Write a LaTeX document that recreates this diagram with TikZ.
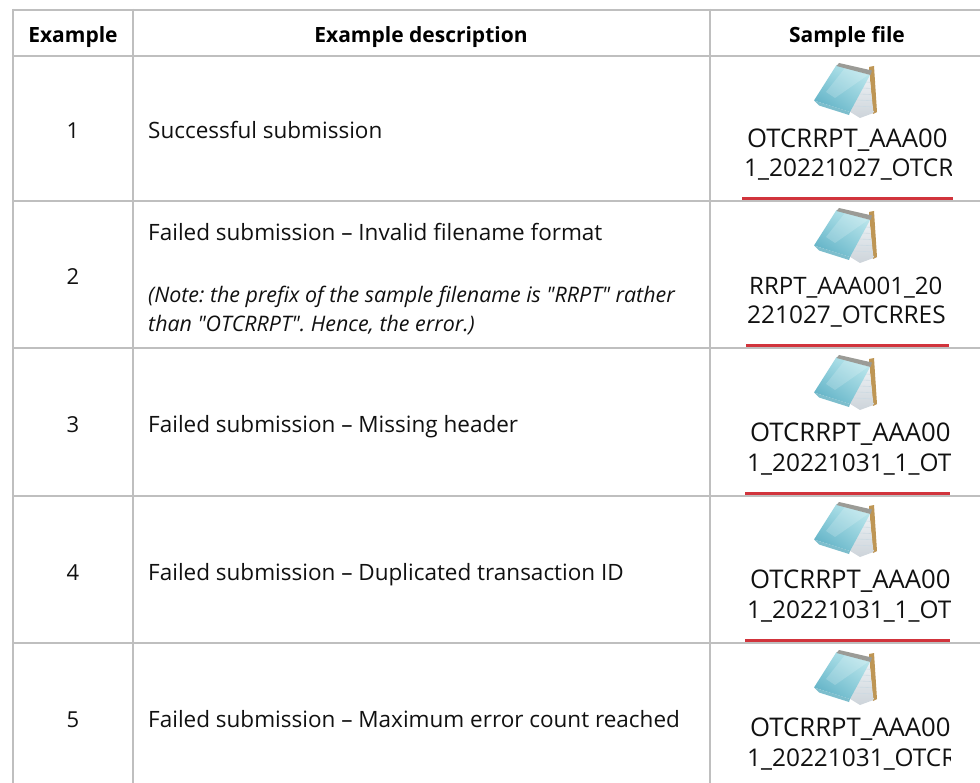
\documentclass[tikz,border=0pt]{standalone}
\usepackage{fontspec}
\setmainfont{Open Sans}
\newfontfamily\plainquote{Open Sans}
\usetikzlibrary{calc,shadings}
\definecolor{gridgray}{HTML}{BFBFBF}
\definecolor{ulred}{HTML}{D1343C}
\definecolor{txt}{HTML}{111111}
\definecolor{covll}{RGB}{85,170,192}
\definecolor{covul}{RGB}{150,212,224}
\definecolor{covlr}{RGB}{140,205,218}
\definecolor{covur}{RGB}{200,236,240}
\definecolor{tanback}{RGB}{190,150,85}
\definecolor{pagebot}{RGB}{205,212,218}
\definecolor{pagetop}{RGB}{240,244,247}
\definecolor{pageline}{RGB}{205,218,226}
\definecolor{spiral}{RGB}{155,155,150}
\definecolor{lip}{RGB}{125,190,205}
\tikzset{
  x=1pt,y=-1pt,
  grid/.style={draw=gridgray,line width=2pt},
  ul/.style={draw=ulred,line width=3pt},
  head/.style={font=\fontsize{21}{25}\selectfont\bfseries,text=black,inner sep=0pt,anchor=base},
  cellnum/.style={font=\fontsize{22}{26}\selectfont,text=txt,inner sep=0pt,anchor=base},
  desc/.style={font=\fontsize{22.5}{27}\selectfont,text=txt,inner sep=0pt,anchor=base west},
  note/.style={font=\plainquote\frenchspacing\fontsize{21.4}{25}\selectfont\itshape,text=txt,inner sep=0pt,anchor=base west},
  filea/.style={font=\fontsize{25.7}{30}\selectfont,text=txt,inner sep=0pt,anchor=base west},
  fileb/.style={font=\fontsize{24.4}{29}\selectfont,text=txt,inner sep=0pt,anchor=base west},
  filec/.style={font=\fontsize{24}{28}\selectfont,text=txt,inner sep=0pt,anchor=base west},
}
\newcommand{\noteicon}[1]{%
\begin{scope}[shift={(0,#1)}]
  \fill[tanback] (869,11) -- (874,10) -- (877,56) -- (873,58) -- cycle;
  \shade[bottom color=pagebot,top color=pagetop]
     (869,16) -- (873.5,57) -- (860,62) -- (847,54) -- cycle;
  \foreach \t in {0.25,0.4,0.55,0.7,0.85}{
    \draw[pageline,line width=.6pt]
      ($(869,16)!\t!(850,56)$) -- ($(869,16)!\t!(873,57)$);}
  \shade[lower left=covll,upper left=covul,lower right=covlr,upper right=covur]
     (836.5,9) -- (870,19) -- (850,56) -- (814,44.5) -- cycle;
  \fill[white,opacity=.18] (845,12) -- (868,19) -- (835,42) -- (826,36) -- cycle;
  \fill[spiral] (839,7) -- (872,14.5) -- (870.5,19) -- (836.5,10) -- cycle;
  \fill[lip] (814,44.5) -- (850,56) -- (849,59) -- (819,49.5) -- cycle;
\end{scope}}
\newcommand{\filetext}[6]{%
\begin{scope}
  \clip (740,#5) rectangle (#1,#5+40);
  \node[#6] (#2) at (#3) {#4};
\end{scope}}
\begin{document}
\begin{tikzpicture}
\useasboundingbox (0,0) rectangle (980,783);
\fill[white] (0,0) rectangle (980,783);
\draw[grid] (13,10) -- (980,10);
\draw[grid] (13,56.5) -- (980,56.5);
\draw[grid] (13,200.7) -- (980,200.7);
\draw[grid] (13,348) -- (980,348);
\draw[grid] (13,495.5) -- (980,495.5);
\draw[grid] (13,642.7) -- (980,642.7);
\draw[grid] (13,9) -- (13,783);
\draw[grid] (132.5,9) -- (132.5,783);
\draw[grid] (709.5,9) -- (709.5,783);
\node[head] (h1) at (73,43) {Example};
\node[head] (h2) at (421,43) {Example description};
\node[head] (h3) at (847,43) {Sample file};
\node[cellnum] (n1) at (73,139) {1};
\node[cellnum] (n2) at (73,285) {2};
\node[cellnum] (n3) at (73,432) {3};
\node[cellnum] (n4) at (73,580) {4};
\node[cellnum] (n5) at (73,727) {5};
\node[desc] (d1) at (148,139) {Successful submission};
\node[desc] (d2) at (148,241) {Failed submission – Invalid filename format};
\node[note] (d2a) at (148,303) {(Note: the prefix of the sample filename is "RRPT" rather};
\node[note] (d2b) at (148,332) {than "OTCRRPT". Hence, the error.)};
\node[desc] (d3) at (148,432) {Failed submission – Missing header};
\node[desc] (d4) at (148,580) {Failed submission – Duplicated transaction ID};
\node[desc] (d5) at (148,727) {Failed submission – Maximum error count reached};
\noteicon{56}
\noteicon{201}
\noteicon{348}
\noteicon{495}
\noteicon{643}
\filetext{953}{f1a}{747,148}{OTCRRPT\_AAA00}{120}{filea}
\filetext{951}{f1b}{744,177}{1\_20221027\_OTCRRES}{155}{fileb}
\filetext{953}{f2a}{749,295}{RRPT\_AAA001\_20}{270}{filec}
\filetext{950}{f2b}{747,324}{221027\_OTCRRES}{302}{fileb}
\filetext{953}{f3a}{750,441}{OTCRRPT\_AAA00}{416}{filea}
\filetext{950}{f3b}{747,471}{1\_20221031\_1\_OTCRRES}{449}{fileb}
\filetext{953}{f4a}{750,588}{OTCRRPT\_AAA00}{563}{filea}
\filetext{950}{f4b}{747,618}{1\_20221031\_1\_OTCRRES}{596}{fileb}
\filetext{953}{f5a}{750,736}{OTCRRPT\_AAA00}{711}{filea}
\filetext{950}{f5b}{747,766}{1\_20221031\_OTCRRES}{743}{fileb}
\draw[ul] (742,198.3) -- (953,198.3);
\draw[ul] (746,346) -- (949,346);
\draw[ul] (745,493.3) -- (950,493.3);
\draw[ul] (745,640.5) -- (950,640.5);
\end{tikzpicture}
\end{document}
